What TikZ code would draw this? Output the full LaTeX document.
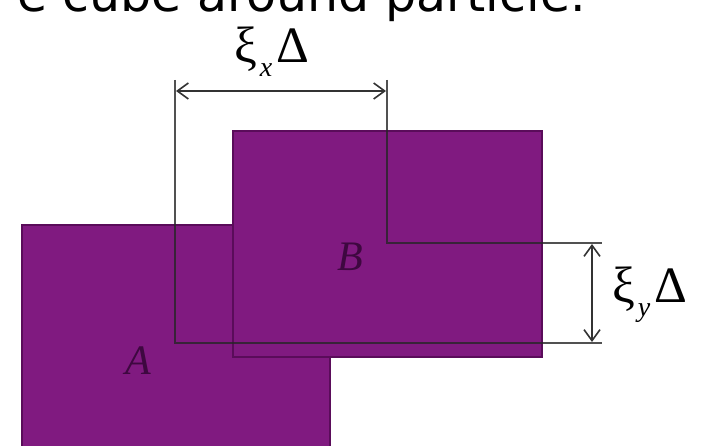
\documentclass[tikz,border=0pt]{standalone}
\usepackage{fontspec}
\usepackage{tikz}
\usetikzlibrary{arrows.meta}
\newfontfamily\capfont{DejaVu Sans}
\newfontfamily\grkfont{Liberation Serif}
\definecolor{Cube_Purple}{HTML}{801A80}
\definecolor{Cube_Edge}{HTML}{5A0C5A}
\definecolor{Cube_Label}{HTML}{3E0840}
\tikzset{
  cube/.style={fill=Cube_Purple, draw=Cube_Edge, line width=2pt},
  cubelabel/.style={text=Cube_Label, inner sep=0pt, font=\grkfont\itshape\fontsize{42}{48}\selectfont},
  shiftline/.style={draw=black!85, line width=1.6pt, opacity=0.8},
  dimarrow/.style={draw=black!80, line width=1.6pt,
    {Straight Barb[length=11pt,width=16pt]}-{Straight Barb[length=11pt,width=16pt]}},
  shiftlabel/.style={inner sep=0pt, font=\grkfont\fontsize{51}{60}\selectfont},
}

\begin{document}
\begin{tikzpicture}[x=1pt, y=-1pt]
    \clip (0,0) rectangle (701,446);
    % caption line, cut off at the top
    \node[anchor=base east, inner sep=0pt, font=\capfont\fontsize{49}{58}\selectfont] (caption) at (586,12) {e cube around particle.};
    % cubes A and B
    \draw[cube] (22,225) rectangle (330,470);
    \draw[cube] (233,131) rectangle (542,357);
    \node[cubelabel] (labA) at (138,361) {A};
    \node[cubelabel] (labB) at (350,257) {B};
    % shifted cube outline
    \coordinate (p1) at (175,80);
    \coordinate (p2) at (175,343);
    \coordinate (p3) at (602,343);
    \coordinate (q1) at (387,80);
    \coordinate (q2) at (387,243);
    \coordinate (q3) at (602,243);
    \draw[shiftline] (p1) -- (p2) -- (p3);
    \draw[shiftline] (q1) -- (q2) -- (q3);
    % shift in x and in y
    \coordinate (ax1) at (176,91);
    \coordinate (ax2) at (386,91);
    \draw[dimarrow] (ax1) -- (ax2);
    \coordinate (ay1) at (592,244);
    \coordinate (ay2) at (592,342);
    \draw[dimarrow] (ay1) -- (ay2);
    \node[shiftlabel, anchor=base west] (shiftx) at (234,63) {ξ\kern3pt\raisebox{-14pt}{\fontsize{28}{32}\selectfont\itshape x}\kern4ptΔ};
    \node[shiftlabel, anchor=base west] (shifty) at (612,302) {ξ\kern3pt\raisebox{-14pt}{\fontsize{28}{32}\selectfont\itshape y}\kern4ptΔ};
\end{tikzpicture}
\end{document}
